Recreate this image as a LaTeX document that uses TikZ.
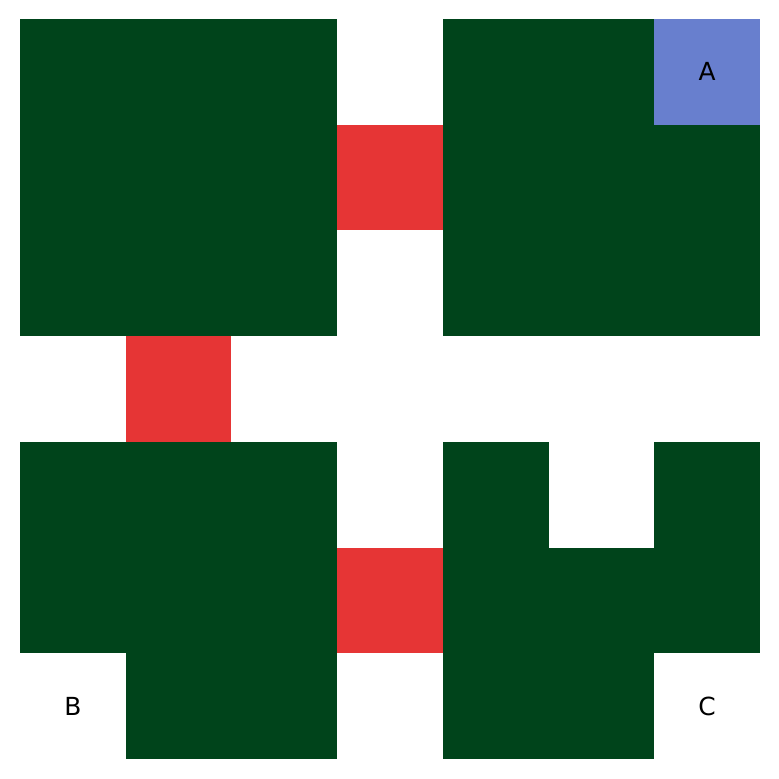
\documentclass[tikz,border=0pt]{standalone}
\usepackage{fontspec}
\setmainfont{DejaVu Sans}
\definecolor{cellg}{RGB}{0,68,27}
\definecolor{cellr}{RGB}{230,53,53}
\definecolor{cellb}{RGB}{104,127,206}
\definecolor{cellw}{RGB}{255,255,255}
\begin{document}
\begin{tikzpicture}[
    x=1cm, y=1cm,
    cell label/.style={font=\fontsize{6.7}{8}\selectfont, text=black}
]
    \useasboundingbox[fill=white] (-0.19,-0.19) rectangle (7.18,7.18);

    % --- GRID CELLS (top row first) ---
    \foreach \r/\row in {0/{g,g,g,w,g,g,b},
                         1/{g,g,g,r,g,g,g},
                         2/{g,g,g,w,g,g,g},
                         3/{w,r,w,w,w,w,w},
                         4/{g,g,g,w,g,w,g},
                         5/{g,g,g,r,g,g,g},
                         6/{w,g,g,w,g,g,w}} {
        \foreach \c [count=\i from 0] in \row {
            \fill[cell\c] (\i,6-\r) rectangle ++(1,1);
        }
    }

    % --- CELL LABELS ---
    \node[cell label] (lblA) at (6.5,6.5) {A};
    \node[cell label] (lblB) at (0.5,0.5) {B};
    \node[cell label] (lblC) at (6.5,0.5) {C};

\end{tikzpicture}
\end{document}
